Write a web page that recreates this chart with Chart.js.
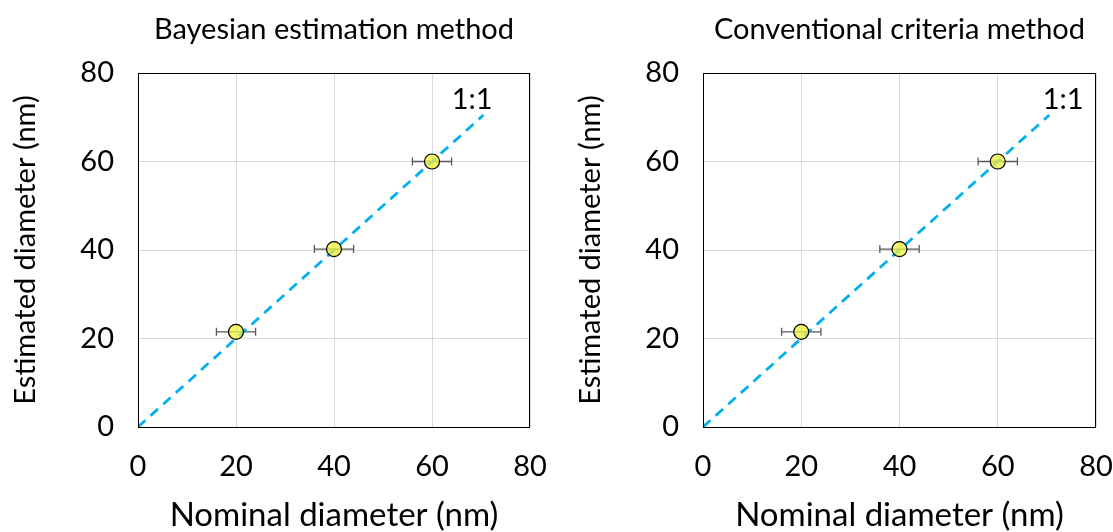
<!DOCTYPE html>
<html>
<head>
<meta charset="utf-8">
<script src="https://cdn.jsdelivr.net/npm/chart.js@4.4.1/dist/chart.umd.min.js"></script>
<style>
  body { margin: 0; background: #fff; width: 1113px; height: 532px; position: relative; overflow: hidden; }
  .panel { position: absolute; top: 0; height: 532px; }
</style>
</head>
<body>
<div class="panel" style="left:0;width:556px"><canvas id="leftChart"></canvas></div>
<div class="panel" style="left:565px;width:548px"><canvas id="rightChart"></canvas></div>
<script>
// data
const nominal = [20, 40, 60];
const bayesEstimated = [21.5, 40.2, 60.0];
const bayesXErr = [4, 4, 4];
const convEstimated = [21.5, 40.2, 60.0];
const convXErr = [4, 4, 4];
const oneToOneX = [0, 70.5];
const axisTicks = [0, 20, 40, 60, 80];

const FONT = 'Lato, "Open Sans", sans-serif';

// title above plot area, box border, error bars and the 1:1 label
const decorations = {
    id: 'decorations',
    beforeDatasetsDraw(chart, args, opts) {
        const ctx = chart.ctx;
        const xs = chart.scales.x, ys = chart.scales.y;
        ctx.save();
        ctx.strokeStyle = '#595959';
        ctx.lineWidth = 1.3;
        opts.xVals.forEach((v, i) => {
            const y = ys.getPixelForValue(opts.yVals[i]);
            const x1 = xs.getPixelForValue(v - opts.xErr[i]);
            const x2 = xs.getPixelForValue(v + opts.xErr[i]);
            ctx.beginPath();
            ctx.moveTo(x1, y); ctx.lineTo(x2, y);
            ctx.moveTo(x1, y - 4); ctx.lineTo(x1, y + 4);
            ctx.moveTo(x2, y - 4); ctx.lineTo(x2, y + 4);
            ctx.stroke();
        });
        ctx.restore();
    },
    afterDraw(chart, args, opts) {
        const ctx = chart.ctx;
        const a = chart.chartArea;
        ctx.save();
        ctx.strokeStyle = '#000';
        ctx.lineWidth = 1;
        ctx.strokeRect(a.left + 0.5, a.top + 0.5, a.right - a.left - 1, a.bottom - a.top);
        ctx.fillStyle = '#000';
        ctx.textAlign = 'center';
        ctx.textBaseline = 'middle';
        ctx.font = '29px ' + FONT;
        ctx.fillText(opts.title, (a.left + a.right) / 2, 30);
        const lx = chart.scales.x.getPixelForValue(opts.labelAt[0]);
        const ly = chart.scales.y.getPixelForValue(opts.labelAt[1]);
        ctx.fillText('1:1', lx, ly);
        ctx.restore();
    }
};

function makeChart(id, title, estimated, xErr, labelAt, padRight) {
    return new Chart(document.getElementById(id), {
        type: 'scatter',
        data: {
            datasets: [{
                label: 'estimated',
                data: nominal.map((x, i) => ({ x: x, y: estimated[i] })),
                backgroundColor: 'rgba(240, 240, 60, 0.75)',
                borderColor: '#000',
                borderWidth: 1.2,
                pointRadius: 7.5,
                pointHoverRadius: 7.5
            }, {
                label: '1:1',
                type: 'line',
                data: oneToOneX.map(v => ({ x: v, y: v })),
                borderColor: '#00B0F0',
                borderWidth: 2.8,
                borderDash: [10, 7],
                pointRadius: 0,
                fill: false
            }]
        },
        options: {
            responsive: true,
            maintainAspectRatio: false,
            animation: false,
            layout: { padding: { top: 73, right: padRight, left: 0, bottom: 0 } },
            plugins: {
                legend: { display: false },
                tooltip: { enabled: false },
                decorations: {
                    title: title,
                    xVals: nominal,
                    yVals: estimated,
                    xErr: xErr,
                    labelAt: labelAt
                }
            },
            scales: {
                x: {
                    type: 'linear',
                    min: 0, max: 80,
                    afterBuildTicks: s => { s.ticks = axisTicks.map(v => ({ value: v })); },
                    afterFit: s => { s.height = 105; s.paddingLeft = 0; s.paddingRight = 0; },
                    grid: { color: '#D9D9D9', drawTicks: false },
                    border: { display: false },
                    ticks: { padding: 22, color: '#000', font: { family: FONT, size: 29 } },
                    title: {
                        display: true, text: 'Nominal diameter (nm)', color: '#000',
                        font: { family: FONT, size: 33 }, padding: { top: 0, bottom: -3 }
                    }
                },
                y: {
                    type: 'linear',
                    min: 0, max: 80,
                    afterBuildTicks: s => { s.ticks = axisTicks.map(v => ({ value: v })); },
                    afterFit: s => { s.width = 138; s.paddingTop = 0; s.paddingBottom = 0; },
                    grid: { color: '#D9D9D9', drawTicks: false },
                    border: { display: false },
                    ticks: { padding: 24, color: '#000', font: { family: FONT, size: 29 } },
                    title: {
                        display: true, text: 'Estimated diameter (nm)', color: '#000',
                        font: { family: FONT, size: 29 }, padding: { top: 8, bottom: 0 }
                    }
                }
            }
        },
        plugins: [decorations]
    });
}

makeChart('leftChart', 'Bayesian estimation method', bayesEstimated, bayesXErr, [68.2, 73.9], 26);
makeChart('rightChart', 'Conventional criteria method', convEstimated, convXErr, [73.3, 73.9], 17);
</script>
</body>
</html>
